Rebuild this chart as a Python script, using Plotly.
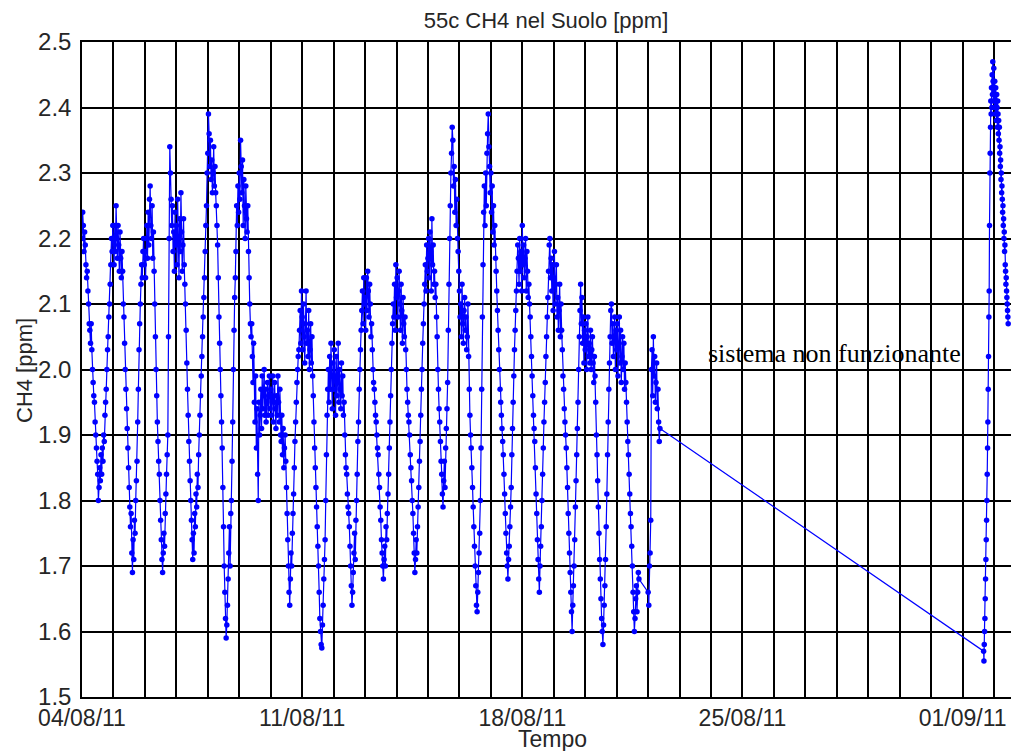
import pandas as pd
import plotly.graph_objects as go

# ---------------- data (CH4 in soil, ppm) ----------------
# main record: one list per day, 30-minute samples starting at 00:00
day_starts = ["2011-08-04", "2011-08-05", "2011-08-06", "2011-08-07", "2011-08-08",
              "2011-08-09", "2011-08-10", "2011-08-11", "2011-08-12", "2011-08-13",
              "2011-08-14", "2011-08-15", "2011-08-16", "2011-08-17", "2011-08-18",
              "2011-08-19", "2011-08-20", "2011-08-21"]

ch4_04_08 = [2.20, 2.24, 2.22, 2.18, 2.21, 2.19, 2.16, 2.14, 2.15, 2.12, 2.10, 2.07,
             2.06, 2.04, 2.07, 2.03, 2.00, 1.98, 1.96, 1.95, 1.92, 1.90, 1.88, 1.86,
             1.84, 1.80, 1.82, 1.85, 1.83, 1.87, 1.84, 1.88, 1.86, 1.90, 1.89, 1.93,
             1.95, 1.97, 2.00, 2.03, 2.05, 2.08, 2.10, 2.13, 2.16, 2.20, 2.18, 2.22]
ch4_05_08 = [2.20, 2.16, 2.22, 2.18, 2.25, 2.20, 2.17, 2.22, 2.19, 2.15, 2.21, 2.17,
             2.14, 2.18, 2.15, 2.10, 2.08, 2.04, 2.00, 1.97, 1.94, 1.91, 1.88, 1.85,
             1.82, 1.79, 1.76, 1.78, 1.72, 1.69, 1.74, 1.71, 1.77, 1.75, 1.80, 1.83,
             1.86, 1.92, 1.97, 2.03, 2.07, 2.10, 2.13, 2.16, 2.14, 2.18, 2.20, 2.16]
ch4_06_08 = [2.18, 2.14, 2.20, 2.22, 2.17, 2.24, 2.19, 2.26, 2.28, 2.22, 2.20, 2.25,
             2.17, 2.21, 2.15, 2.10, 2.05, 2.00, 1.96, 1.92, 1.89, 1.86, 1.84, 1.80,
             1.77, 1.74, 1.71, 1.69, 1.72, 1.75, 1.73, 1.78, 1.81, 1.84, 1.87, 1.90,
             2.05, 2.20, 2.34, 2.30, 2.26, 2.22, 2.25, 2.18, 2.21, 2.15, 2.24, 2.19]
ch4_07_08 = [2.22, 2.16, 2.26, 2.20, 2.14, 2.23, 2.18, 2.27, 2.21, 2.15, 2.19, 2.23,
             2.16, 2.13, 2.10, 2.06, 2.01, 1.97, 1.93, 1.89, 1.86, 1.83, 1.80, 1.77,
             1.74, 1.71, 1.75, 1.72, 1.78, 1.76, 1.81, 1.79, 1.84, 1.82, 1.87, 1.90,
             1.93, 1.96, 1.99, 2.02, 2.05, 2.08, 2.11, 2.14, 2.18, 2.22, 2.25, 2.30]
ch4_08_08 = [2.33, 2.39, 2.36, 2.31, 2.35, 2.29, 2.32, 2.27, 2.30, 2.34, 2.28, 2.31,
             2.27, 2.25, 2.22, 2.19, 2.14, 2.08, 2.04, 2.00, 1.96, 1.92, 1.88, 1.82,
             1.76, 1.70, 1.66, 1.62, 1.59, 1.61, 1.64, 1.68, 1.72, 1.76, 1.70, 1.78,
             1.80, 1.86, 1.92, 2.00, 2.06, 2.11, 2.14, 2.18, 2.25, 2.22, 2.28, 2.24]
ch4_09_08 = [2.30, 2.26, 2.35, 2.31, 2.27, 2.32, 2.22, 2.29, 2.25, 2.20, 2.28, 2.23,
             2.21, 2.25, 2.18, 2.14, 2.10, 2.07, 2.05, 2.07, 2.02, 1.98, 2.04, 1.95,
             1.92, 1.99, 1.88, 1.94, 1.84, 1.80, 1.95, 1.90, 1.93, 1.97, 1.91, 1.99,
             1.94, 1.96, 2.00, 1.93, 1.97, 1.92, 1.95, 1.98, 1.93, 1.96, 1.99, 1.94]
ch4_10_08 = [1.97, 1.93, 1.96, 1.99, 1.92, 1.95, 1.98, 1.94, 1.91, 1.96, 1.93, 1.99,
             1.95, 1.92, 1.97, 1.90, 1.89, 1.93, 1.87, 1.91, 1.85, 1.88, 1.90, 1.86,
             1.82, 1.78, 1.74, 1.70, 1.66, 1.64, 1.68, 1.72, 1.70, 1.75, 1.78, 1.81,
             1.85, 1.89, 1.92, 1.95, 1.98, 2.00, 2.02, 2.03, 2.06, 2.09, 2.04, 2.12]
ch4_11_08 = [2.08, 2.03, 2.10, 2.05, 2.01, 2.07, 2.12, 2.04, 2.06, 2.02, 2.09, 2.00,
             2.03, 2.07, 2.01, 2.05, 1.99, 1.96, 1.92, 1.88, 1.85, 1.82, 1.79, 1.76,
             1.73, 1.70, 1.66, 1.62, 1.60, 1.58, 1.575, 1.61, 1.64, 1.68, 1.71, 1.74,
             1.80, 1.87, 1.93, 1.97, 2.00, 1.95, 2.02, 1.97, 2.04, 1.99, 1.94, 2.01]
ch4_12_08 = [1.97, 2.03, 1.99, 1.93, 2.02, 1.96, 1.98, 2.04, 1.95, 2.00, 1.97, 1.94,
             2.01, 1.96, 1.99, 1.93, 1.95, 1.90, 1.87, 1.85, 1.84, 1.81, 1.79, 1.78,
             1.76, 1.73, 1.70, 1.67, 1.64, 1.66, 1.69, 1.72, 1.75, 1.71, 1.77, 1.80,
             1.84, 1.89, 1.92, 1.97, 2.00, 2.03, 2.06, 2.09, 2.12, 2.07, 2.14, 2.10]
ch4_13_08 = [2.11, 2.06, 2.14, 2.09, 2.15, 2.12, 2.08, 2.13, 2.10, 2.05, 2.07, 2.03,
             2.00, 1.98, 1.97, 1.95, 1.93, 1.92, 1.90, 1.88, 1.87, 1.84, 1.82, 1.79,
             1.77, 1.74, 1.72, 1.70, 1.68, 1.71, 1.73, 1.70, 1.76, 1.74, 1.78, 1.81,
             1.84, 1.88, 1.92, 1.96, 2.00, 2.04, 2.07, 2.10, 2.08, 2.13, 2.06, 2.16]
ch4_14_08 = [2.11, 2.14, 2.08, 2.12, 2.15, 2.10, 2.06, 2.13, 2.09, 2.04, 2.11, 2.07,
             2.05, 2.08, 2.03, 2.00, 1.97, 1.95, 1.93, 1.92, 1.90, 1.87, 1.85, 1.83,
             1.80, 1.78, 1.75, 1.72, 1.69, 1.71, 1.74, 1.72, 1.76, 1.79, 1.82, 1.86,
             1.89, 1.93, 1.97, 2.00, 2.04, 2.07, 2.10, 2.13, 2.16, 2.12, 2.19, 2.15]
ch4_15_08 = [2.17, 2.20, 2.14, 2.21, 2.18, 2.12, 2.23, 2.16, 2.19, 2.13, 2.15, 2.11,
             2.13, 2.08, 2.05, 2.00, 1.97, 1.94, 1.92, 1.89, 1.86, 1.84, 1.81, 1.79,
             1.83, 1.86, 1.82, 1.88, 1.91, 1.94, 1.98, 2.06, 2.13, 2.20, 2.25, 2.30,
             2.33, 2.37, 2.35, 2.28, 2.31, 2.24, 2.29, 2.22, 2.26, 2.20, 2.18, 2.15]
ch4_16_08 = [2.12, 2.08, 2.10, 2.05, 2.13, 2.07, 2.04, 2.09, 2.11, 2.06, 2.08, 2.03,
             2.05, 2.10, 2.02, 1.97, 1.93, 1.90, 1.88, 1.85, 1.82, 1.79, 1.76, 1.73,
             1.70, 1.67, 1.64, 1.63, 1.66, 1.69, 1.72, 1.75, 1.80, 1.88, 1.97, 2.08,
             2.16, 2.24, 2.28, 2.22, 2.30, 2.25, 2.33, 2.36, 2.39, 2.34, 2.31, 2.27]
ch4_17_08 = [2.30, 2.24, 2.28, 2.21, 2.25, 2.19, 2.22, 2.17, 2.15, 2.12, 2.09, 2.06,
             2.03, 2.00, 1.97, 1.95, 1.93, 1.91, 1.89, 1.87, 1.84, 1.81, 1.78, 1.75,
             1.72, 1.70, 1.68, 1.71, 1.73, 1.76, 1.79, 1.82, 1.87, 1.91, 1.95, 1.99,
             2.03, 2.06, 2.09, 2.12, 2.15, 2.19, 2.17, 2.13, 2.20, 2.15, 2.18, 2.12]
ch4_18_08 = [2.22, 2.16, 2.19, 2.14, 2.17, 2.20, 2.12, 2.18, 2.15, 2.11, 2.13, 2.10,
             2.08, 2.05, 2.02, 1.99, 1.96, 1.93, 1.91, 1.89, 1.85, 1.81, 1.78, 1.74,
             1.71, 1.68, 1.66, 1.70, 1.73, 1.76, 1.80, 1.84, 1.88, 1.92, 1.95, 1.98,
             2.02, 2.05, 2.08, 2.11, 2.15, 2.19, 2.20, 2.14, 2.17, 2.12, 2.16, 2.09]
ch4_19_08 = [2.14, 2.18, 2.10, 2.13, 2.16, 2.08, 2.11, 2.06, 2.09, 2.13, 2.05, 2.10,
             2.06, 2.03, 1.99, 1.97, 1.94, 1.92, 1.90, 1.88, 1.85, 1.82, 1.78, 1.75,
             1.72, 1.69, 1.66, 1.63, 1.60, 1.64, 1.67, 1.70, 1.74, 1.79, 1.83, 1.87,
             1.91, 1.95, 2.00, 2.05, 2.09, 2.13, 2.07, 2.11, 2.04, 2.08, 2.01, 2.06]
ch4_20_08 = [2.03, 2.07, 2.00, 2.05, 2.08, 2.02, 2.04, 2.01, 2.06, 2.00, 2.03, 2.05,
             2.01, 1.98, 2.02, 1.99, 1.95, 1.90, 1.87, 1.83, 1.79, 1.75, 1.71, 1.68,
             1.65, 1.62, 1.60, 1.58, 1.61, 1.64, 1.67, 1.71, 1.76, 1.81, 1.87, 1.92,
             1.97, 2.01, 2.05, 2.09, 2.10, 2.04, 2.07, 2.02, 2.05, 2.08, 2.00, 2.06]
ch4_21_08 = [2.03, 2.07, 1.99, 2.04, 2.08, 2.01, 2.06, 1.98, 2.02, 2.05, 2.00, 2.04,
             1.97, 2.01, 1.98, 1.95, 1.92, 1.89, 1.87, 1.84, 1.81, 1.78, 1.76, 1.73,
             1.70, 1.66, 1.63, 1.60, 1.62, 1.65, 1.67, 1.63, 1.66, 1.69, 1.68]

daily_values = [ch4_04_08, ch4_05_08, ch4_06_08, ch4_07_08, ch4_08_08, ch4_09_08,
                ch4_10_08, ch4_11_08, ch4_12_08, ch4_13_08, ch4_14_08, ch4_15_08,
                ch4_16_08, ch4_17_08, ch4_18_08, ch4_19_08, ch4_20_08, ch4_21_08]

# restart on 22/08 (30-minute samples) before the outage
restart_start = "2011-08-22 00:00"
ch4_22_08 = [1.66, 1.64, 1.70, 1.72, 1.77, 2.00, 2.03, 1.96, 2.05, 1.99, 2.02, 1.95,
             1.98, 2.01, 1.94, 1.97, 1.92, 1.89, 1.91]

# after the outage (15-minute samples)
resume_start = "2011-09-01 16:00"
ch4_01_09 = [1.57, 1.555, 1.58, 1.60, 1.62, 1.65, 1.68, 1.71, 1.74, 1.77, 1.80, 1.84,
             1.88, 1.92, 1.97, 2.02, 2.08, 2.12, 2.22, 2.30,
             2.33, 2.37, 2.41, 2.39, 2.43, 2.40, 2.45, 2.42, 2.47, 2.44, 2.41, 2.46,
             2.43, 2.40, 2.44, 2.42, 2.39, 2.43, 2.41, 2.38, 2.42, 2.40, 2.37, 2.41,
             2.39, 2.36, 2.38, 2.35, 2.37, 2.33,
             2.34, 2.31, 2.32, 2.29, 2.30, 2.27, 2.28, 2.26, 2.24, 2.25, 2.22, 2.23,
             2.20, 2.21, 2.18, 2.19, 2.16, 2.15, 2.13, 2.14, 2.12, 2.11, 2.10, 2.09,
             2.08, 2.07]

y_ticks = [1.5, 1.6, 1.7, 1.8, 1.9, 2.0, 2.1, 2.2, 2.3, 2.4, 2.5]
x_tick_dates = ["2011-08-04", "2011-08-11", "2011-08-18", "2011-08-25", "2011-09-01"]
x_tick_labels = ["04/08/11", "11/08/11", "18/08/11", "25/08/11", "01/09/11"]

# ---------------- build series ----------------
times, values = [], []
for start, vals in zip(day_starts, daily_values):
    times += list(pd.date_range(start, periods=len(vals), freq="30min"))
    values += vals
times += list(pd.date_range(restart_start, periods=len(ch4_22_08), freq="30min"))
values += ch4_22_08
times += list(pd.date_range(resume_start, periods=len(ch4_01_09), freq="15min"))
values += ch4_01_09

fig = go.Figure()
fig.add_trace(go.Scatter(
    x=times, y=values, mode="lines+markers",
    line=dict(color="#0000ff", width=1.2),
    marker=dict(color="#0000ff", size=5.5),
    showlegend=False, hoverinfo="x+y",
))

# The page body adds an 8 px offset; figure is sized so that the plot area
# lands at screen x 82..1019, y 42..697.
OFF = 8
FIG_W, FIG_H = 1019 - OFF, 751 - OFF
L, T = 82 - OFF, 42 - OFF
B = FIG_H - (697 - OFF)
PLOT_W, PLOT_H = FIG_W - L, FIG_H - T - B

fig.add_annotation(
    x=(834 - 82) / PLOT_W, xref="paper", xanchor="center",
    y=2.025, yref="y", yanchor="middle",
    text="sistema non funzionante", showarrow=False,
    font=dict(family="Liberation Serif, Times New Roman, serif", size=26, color="black"),
)
fig.add_annotation(
    x=(552 - 82) / PLOT_W, xref="paper", xanchor="center",
    y=-(739 - 697) / PLOT_H, yref="paper", yanchor="middle",
    text="Tempo", showarrow=False,
    font=dict(size=23, color="#262626"),
)
fig.add_annotation(
    x=-(82 - 24) / PLOT_W, xref="paper", xanchor="center",
    y=(697 - 371) / PLOT_H, yref="paper", yanchor="middle",
    text="CH4 [ppm]", textangle=-90, showarrow=False,
    font=dict(size=22, color="#262626"),
)

fig.update_xaxes(
    type="date",
    range=["2011-08-04 00:00", "2011-09-02 19:00"],
    tickmode="array", tickvals=x_tick_dates, ticktext=x_tick_labels,
    showgrid=True, gridcolor="black", gridwidth=1.5,
    minor=dict(dtick=86400000, tick0="2011-08-04", showgrid=True,
               gridcolor="black", gridwidth=1.5),
    showline=True, linecolor="black", linewidth=1.5, mirror=True,
    ticks="", tickfont=dict(size=23, color="#262626"),
    zeroline=False, automargin=False,
)
fig.update_yaxes(
    range=[1.5, 2.5],
    tickmode="array", tickvals=y_ticks, ticktext=[f"{v:.1f}" for v in y_ticks],
    showgrid=True, gridcolor="black", gridwidth=1.5,
    showline=True, linecolor="black", linewidth=1.5, mirror=False,
    ticks="", ticklabelstandoff=4, tickfont=dict(size=24, color="#262626"),
    zeroline=False, automargin=False,
)

fig.update_layout(
    width=FIG_W, height=FIG_H,
    margin=dict(l=L, r=0, t=T, b=B, autoexpand=False),
    plot_bgcolor="white", paper_bgcolor="white",
    font=dict(family="Liberation Sans, Arial, sans-serif", color="#262626"),
    title=dict(text="55c CH4 nel Suolo [ppm]", x=(546 - OFF) / FIG_W, xanchor="center",
               y=1 - (20 - OFF) / FIG_H, yanchor="middle", yref="container",
               font=dict(size=22, color="#262626")),
    showlegend=False,
)

fig.write_html("out.html")
